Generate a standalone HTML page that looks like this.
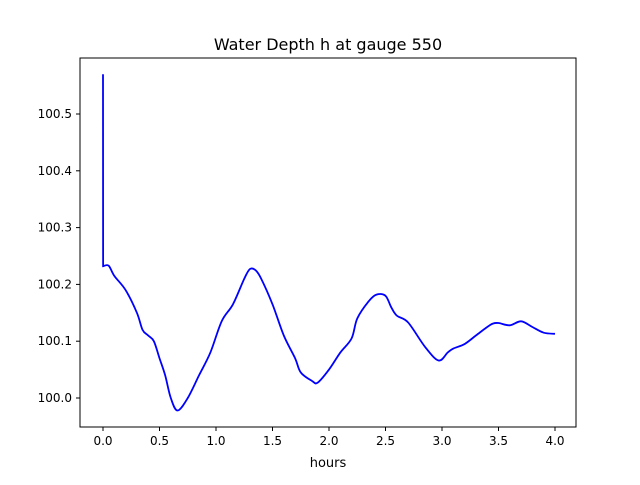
<!DOCTYPE html>
<html><head><meta charset="utf-8"><style>
body{margin:0;background:#fff;font-family:"Liberation Sans","DejaVu Sans",sans-serif}
</style></head><body>
<svg id="chart" width="640" height="480" xmlns="http://www.w3.org/2000/svg" font-family="DejaVu Sans, Liberation Sans, sans-serif">
<rect width="640" height="480" fill="#fff"/>
<text x="328" y="50" font-size="16" text-anchor="middle">Water Depth h at gauge 550</text>
<g id="plot"></g>
<rect x="80" y="58" width="496" height="369" fill="none" stroke="#000" stroke-width="1"/>
<text x="328" y="467" font-size="13" text-anchor="middle">hours</text>
</svg>
<script>
const hours=[0,0.001,0.05,0.1,0.2,0.3,0.35,0.4,0.45,0.5,0.55,0.6,0.66,0.75,0.85,0.95,1.05,1.15,1.25,1.3,1.35,1.4,1.5,1.6,1.7,1.75,1.85,1.9,2.0,2.1,2.2,2.25,2.35,2.42,2.5,2.55,2.6,2.7,2.85,2.97,3.05,3.1,3.2,3.3,3.4,3.45,3.5,3.6,3.7,3.8,3.9,4.0];
const depth=[100.57,100.232,100.233,100.215,100.19,100.15,100.12,100.11,100.10,100.07,100.04,100.0,99.978,100.0,100.04,100.08,100.135,100.165,100.21,100.227,100.225,100.21,100.165,100.11,100.07,100.045,100.03,100.027,100.05,100.08,100.105,100.14,100.17,100.182,100.18,100.16,100.145,100.133,100.09,100.066,100.08,100.087,100.095,100.11,100.125,100.131,100.132,100.128,100.135,100.125,100.115,100.113];
const xTicks=[0,0.5,1,1.5,2,2.5,3,3.5,4];
const xTickLabels=["0.0","0.5","1.0","1.5","2.0","2.5","3.0","3.5","4.0"];
const yTicks=[100.0,100.1,100.2,100.3,100.4,100.5];
const yTickLabels=["100.0","100.1","100.2","100.3","100.4","100.5"];
const NS="http://www.w3.org/2000/svg";
const g=document.getElementById('plot');
const X=v=>103+v*113;
const Y=v=>398-(v-100)*568;
function mk(t,a){const e=document.createElementNS(NS,t);for(const k in a)e.setAttribute(k,a[k]);g.appendChild(e);return e;}
xTicks.forEach((t,i)=>{
 const l=mk('line',{x1:X(t),x2:X(t),y1:427,y2:431,stroke:'#000'});
 
 
 const tx=mk('text',{x:X(t),y:445,'font-size':12,'text-anchor':'middle'});
 tx.textContent=xTickLabels[i];
 
 
});
yTicks.forEach((t,i)=>{
 const l=mk('line',{x1:76,x2:80,y1:Y(t),y2:Y(t),stroke:'#000'});
 
 
 const tx=mk('text',{x:72,y:Y(t)+4,'font-size':12,'text-anchor':'end'});
 tx.textContent=yTickLabels[i];
 
 
});
const pts=hours.map((h,i)=>[X(h),Y(depth[i])]);
let d='M'+pts[0][0]+','+pts[0][1]+' L'+pts[1][0]+','+pts[1][1];
for(let i=1;i<pts.length-1;i++){
 const p0=pts[Math.max(1,i-1)],p1=pts[i],p2=pts[i+1],p3=pts[Math.min(pts.length-1,i+2)];
 const c1=[p1[0]+(p2[0]-p0[0])/6,p1[1]+(p2[1]-p0[1])/6];
 const c2=[p2[0]-(p3[0]-p1[0])/6,p2[1]-(p3[1]-p1[1])/6];
 d+=` C${c1[0]},${c1[1]} ${c2[0]},${c2[1]} ${p2[0]},${p2[1]}`;
}
const line=mk('path',{d:d,fill:'none',stroke:'#0000ff','stroke-width':1.8});


</script>
</body></html>
